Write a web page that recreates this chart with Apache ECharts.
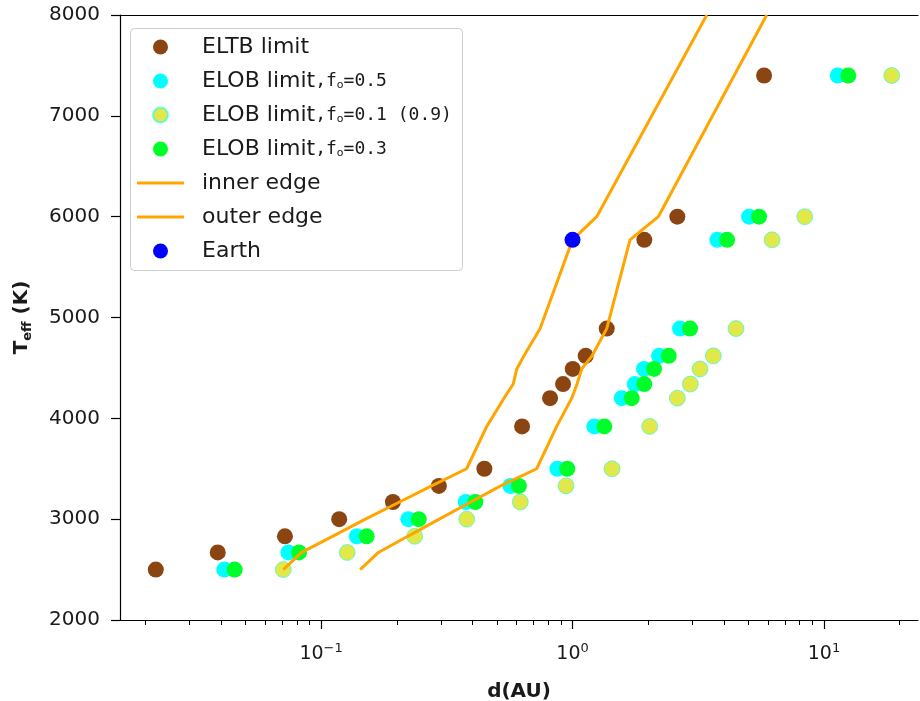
<!DOCTYPE html>
<html>
<head>
<meta charset="utf-8">
<script src="https://cdn.jsdelivr.net/npm/echarts@6/dist/echarts.min.js"></script>
<style>
  html, body { margin: 0; padding: 0; background: #fff; }
  #chart { width: 920px; height: 701px; }
</style>
</head>
<body>
<div id="chart"></div>
<script>
// Stellar effective temperatures (K) of the sample
const teff = [2500, 2670, 2830, 3000, 3170, 3330, 3500, 3920, 4200, 4340, 4490, 4620, 4890, 5770, 6000, 7400];

// Limiting distances (AU) for each star
const dEltb   = [0.0220, 0.0388, 0.0718, 0.118, 0.193, 0.294, 0.446, 0.630, 0.814, 0.917, 1.002, 1.128, 1.368, 1.930, 2.612, 5.78];
const dElob05 = [0.0412, 0.0741, 0.1386, 0.2222, 0.376, 0.566, 0.870, 1.221, 1.569, 1.768, 1.924, 2.208, 2.677, 3.767, 5.04, 11.35];
const dElob01 = [0.0707, 0.127, 0.2356, 0.3795, 0.620, 0.942, 1.436, 2.028, 2.612, 2.942, 3.215, 3.631, 4.47, 6.22, 8.39, 18.61];
const dElob03 = [0.0453, 0.0817, 0.1518, 0.2445, 0.4105, 0.612, 0.953, 1.338, 1.720, 1.930, 2.110, 2.414, 2.934, 4.118, 5.52, 12.5];

// Habitable-zone edges
const edgeTeff = [2500, 2670, 2830, 3000, 3170, 3330, 3500, 3920, 4200, 4340, 4490, 4620, 4890, 5770, 6000, 8000];
const dInner   = [0.0707, 0.0837, 0.111, 0.150, 0.205, 0.275, 0.379, 0.456, 0.534, 0.581, 0.600, 0.641, 0.743, 1.0, 1.248, 3.42];
const dOuter   = [0.143, 0.169, 0.221, 0.295, 0.394, 0.518, 0.720, 0.865, 0.993, 1.042, 1.088, 1.196, 1.368, 1.693, 2.194, 5.92];

// Earth
const earthD = [1.0];
const earthT = [5770];

// Axis ticks
const xMajorTicks = [0.1, 1, 10];
const xMinorTicks = [0.02, 0.03, 0.04, 0.05, 0.06, 0.07, 0.08, 0.09,
                     0.2, 0.3, 0.4, 0.5, 0.6, 0.7, 0.8, 0.9,
                     2, 3, 4, 5, 6, 7, 8, 9, 20];
const xMin = 0.01585, xMax = 23.67;
const yMin = 2000, yMax = 8000, yStep = 1000;

const pair = (xs, ys) => xs.map((x, i) => [x, ys[i]]);

const FONT = 'DejaVu Sans';
const TXT = '#1a1a1a';
const LINE_ICON = 'path://M0,0 L47,0 L47,3 L0,3 Z';

const legendRich = {
  t: { fontFamily: FONT, fontSize: 22, color: TXT, lineHeight: 20 },
  m: { fontFamily: 'DejaVu Sans Mono', fontSize: 18, color: TXT, lineHeight: 20 },
  s: { fontFamily: FONT, fontSize: 11, color: TXT, lineHeight: 12, verticalAlign: 'bottom' }
};
const legendLabels = {
  'ELTB limit': '{t|ELTB limit}',
  'ELOB limit,fₒ=0.5': '{t|ELOB limit}{m|,f}{s|o}{m|=0.5}',
  'ELOB limit ,fₒ=0.1 (0.9)': '{t|ELOB limit}{m|,f}{s|o}{m|=0.1 (0.9)}',
  'ELOB limit,fₒ=0.3': '{t|ELOB limit}{m|,f}{s|o}{m|=0.3}',
  'inner edge': '{t|inner edge}',
  'outer edge': '{t|outer edge}',
  'Earth': '{t|Earth}'
};

const logBase = { type: 'log', logBase: 10, min: xMin, max: xMax, gridIndex: 0, splitLine: { show: false } };

const chart = echarts.init(document.getElementById('chart'), null, { renderer: 'canvas' });
chart.setOption({
  backgroundColor: '#fff',
  animation: false,
  grid: { left: 120, top: 15, width: 798, height: 605, containLabel: false, outerBoundsMode: 'none' },
  graphic: [{
    type: 'rect', left: 130, top: 28, z: 50,
    shape: { width: 332, height: 242, r: 4 },
    style: { fill: 'rgba(255,255,255,0.85)', stroke: '#cccccc', lineWidth: 1 }
  }],
  legend: {
    z: 60,
    orient: 'vertical', left: 132, top: 31,
    itemWidth: 47, itemHeight: 15, itemGap: 12,
    selectedMode: false,
    formatter: name => legendLabels[name],
    textStyle: { fontFamily: FONT, fontSize: 22, color: TXT, lineHeight: 20, padding: [0, 0, 0, 13], rich: legendRich },
    data: [
      { name: 'ELTB limit', icon: 'circle' },
      { name: 'ELOB limit,fₒ=0.5', icon: 'circle' },
      { name: 'ELOB limit ,fₒ=0.1 (0.9)', icon: 'circle' },
      { name: 'ELOB limit,fₒ=0.3', icon: 'circle' },
      { name: 'inner edge', icon: LINE_ICON },
      { name: 'outer edge', icon: LINE_ICON },
      { name: 'Earth', icon: 'circle' }
    ]
  },
  xAxis: [
    Object.assign({}, logBase, {
      position: 'bottom',
      axisLine: { show: true, lineStyle: { color: '#000', width: 1.2 } },
      axisTick: { show: true, inside: false, length: 9, customValues: xMajorTicks, lineStyle: { color: '#000', width: 1.2 } },
      axisLabel: {
        show: true, margin: 22, customValues: xMajorTicks,
        formatter: v => {
          const e = Math.round(Math.log10(v));
          return '{b|10}{sup|' + (e < 0 ? '\u2212' + (-e) : e) + '}';
        },
        rich: {
          b: { fontFamily: FONT, fontSize: 19, color: TXT, lineHeight: 24 },
          sup: { fontFamily: FONT, fontSize: 13, color: TXT, lineHeight: 14, verticalAlign: 'top' }
        }
      },
      name: 'd(AU)', nameLocation: 'middle', nameGap: 62,
      nameTextStyle: { fontFamily: FONT, fontSize: 20, fontWeight: 'bold', color: TXT }
    }),
    Object.assign({}, logBase, {
      position: 'bottom',
      axisLine: { show: false },
      axisTick: { show: true, inside: false, length: 5, customValues: xMinorTicks, lineStyle: { color: '#000', width: 1 } },
      axisLabel: { show: false }
    }),
    Object.assign({}, logBase, {
      position: 'top',
      axisLine: { show: true, lineStyle: { color: '#000', width: 1.2 } },
      axisTick: { show: false },
      axisLabel: { show: false }
    })
  ],
  yAxis: {
    type: 'value', min: yMin, max: yMax, interval: yStep,
    axisLine: { show: true, lineStyle: { color: '#000', width: 1.2 } },
    axisTick: { show: true, inside: false, length: 9, lineStyle: { color: '#000', width: 1.2 } },
    splitLine: { show: false },
    axisLabel: { margin: 20, fontFamily: FONT, fontSize: 20, color: TXT, formatter: v => String(v) },
    name: '{b|T}{sub|eff}{b| (K)}',
    nameLocation: 'middle', nameGap: 86, nameRotate: 90,
    nameTextStyle: {
      rich: {
        b: { fontFamily: FONT, fontSize: 20, fontWeight: 'bold', color: TXT, lineHeight: 24 },
        sub: { fontFamily: FONT, fontSize: 13, fontWeight: 'bold', color: TXT, lineHeight: 14, verticalAlign: 'bottom' }
      }
    }
  },
  series: [
    { name: 'ELTB limit', type: 'scatter', symbol: 'circle', symbolSize: 16, z: 2,
      itemStyle: { color: '#8B4513', opacity: 1 }, data: pair(dEltb, teff) },
    { name: 'ELOB limit,fₒ=0.5', type: 'scatter', symbol: 'circle', symbolSize: 16, z: 2,
      itemStyle: { color: '#00FFFF', opacity: 1 }, data: pair(dElob05, teff) },
    { name: 'ELOB limit ,fₒ=0.1 (0.9)', type: 'scatter', symbol: 'circle', symbolSize: 16, z: 2,
      itemStyle: { color: '#E0E84A', opacity: 1, borderColor: 'rgba(0,255,255,0.55)', borderWidth: 1 }, data: pair(dElob01, teff) },
    { name: 'ELOB limit,fₒ=0.3', type: 'scatter', symbol: 'circle', symbolSize: 16, z: 2,
      itemStyle: { color: '#00FF2A', opacity: 1 }, data: pair(dElob03, teff) },
    { name: 'inner edge', type: 'line', symbol: 'none', z: 3, clip: true,
      lineStyle: { color: '#FFA500', width: 3 }, itemStyle: { color: '#FFA500' },
      data: pair(dInner, edgeTeff) },
    { name: 'outer edge', type: 'line', symbol: 'none', z: 3, clip: true,
      lineStyle: { color: '#FFA500', width: 3 }, itemStyle: { color: '#FFA500' },
      data: pair(dOuter, edgeTeff) },
    { name: 'Earth', type: 'scatter', symbol: 'circle', symbolSize: 16, z: 4,
      itemStyle: { color: '#0000FF', opacity: 1 }, data: pair(earthD, earthT) }
  ]
});
</script>
</body>
</html>
